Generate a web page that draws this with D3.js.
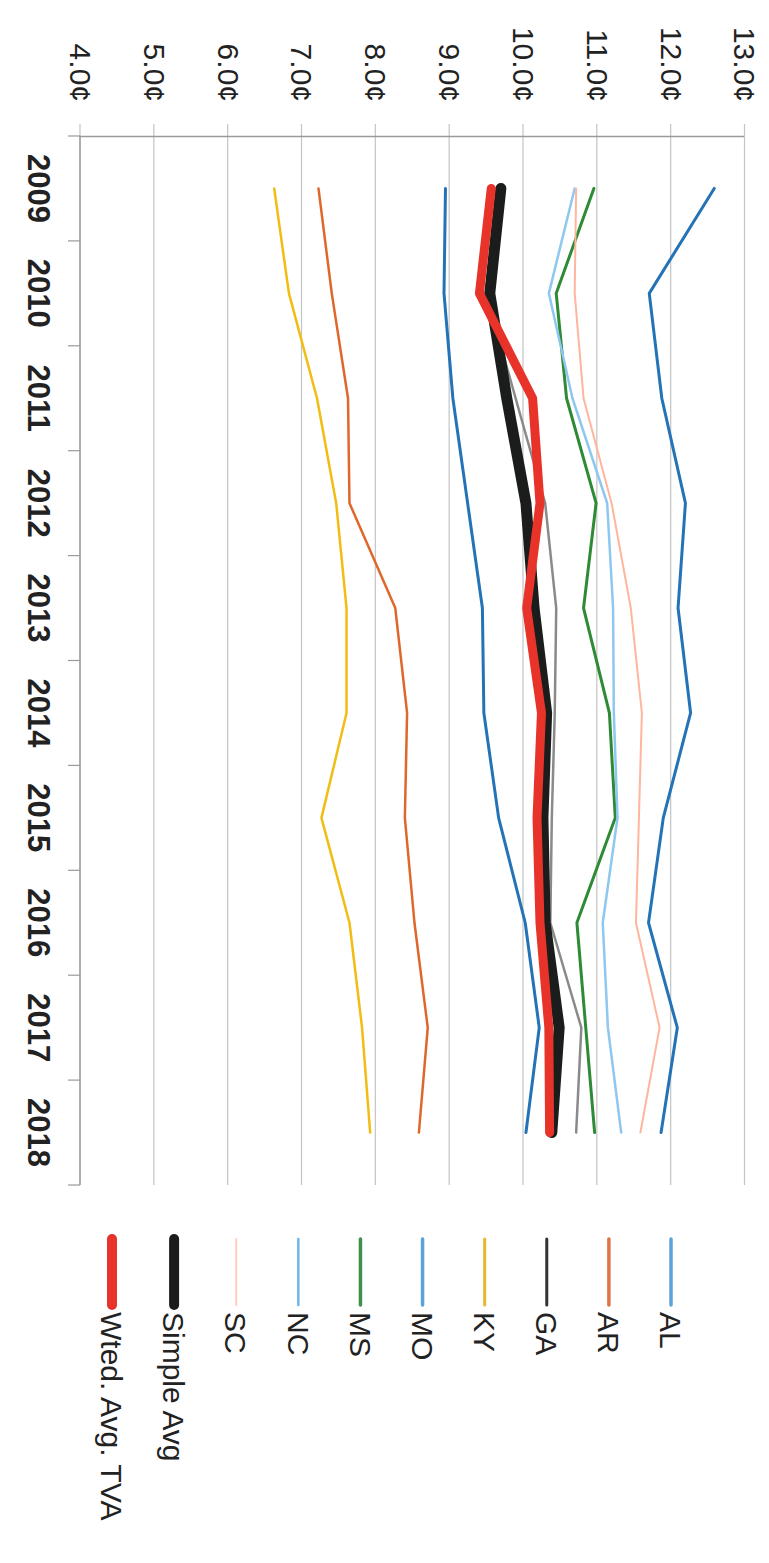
<!DOCTYPE html>
<html>
<head>
<meta charset="utf-8">
<script src="https://cdn.jsdelivr.net/npm/d3@7"></script>
<style>
  body { margin: 0; background: #fff; }
  text { font-family: "Liberation Sans", Arial, sans-serif; fill: #222; }
</style>
</head>
<body>
<svg id="chart"></svg>
<script>
const years = [2009, 2010, 2011, 2012, 2013, 2014, 2015, 2016, 2017, 2018];
const valueTicks = [4, 5, 6, 7, 8, 9, 10, 11, 12, 13];

const AL = [12.59, 11.71, 11.88, 12.20, 12.10, 12.27, 11.90, 11.70, 12.09, 11.87];
const AR = [7.23, 7.41, 7.63, 7.65, 8.27, 8.43, 8.40, 8.53, 8.71, 8.59];
const GA = [9.65, 9.50, 9.90, 10.30, 10.45, 10.43, 10.39, 10.37, 10.79, 10.72];
const KY = [6.63, 6.83, 7.21, 7.47, 7.61, 7.61, 7.27, 7.65, 7.82, 7.93];
const MO = [8.95, 8.93, 9.05, 9.25, 9.45, 9.47, 9.67, 10.03, 10.22, 10.04];
const MS = [10.96, 10.45, 10.59, 10.99, 10.82, 11.17, 11.25, 10.73, 10.85, 10.97];
const NC = [10.70, 10.35, 10.67, 11.14, 11.22, 11.23, 11.28, 11.08, 11.15, 11.33];
const SC = [10.72, 10.70, 10.82, 11.20, 11.46, 11.61, 11.57, 11.53, 11.85, 11.59];
const simpleAvg = [9.70, 9.55, 9.78, 10.04, 10.15, 10.32, 10.27, 10.30, 10.49, 10.39];
const wtedAvg = [9.57, 9.41, 10.13, 10.23, 10.05, 10.25, 10.19, 10.23, 10.35, 10.36];

const seriesNames = ["AL", "AR", "GA", "KY", "MO", "MS", "NC", "SC", "Simple Avg", "Wted. Avg. TVA"];
const seriesValues = [AL, AR, GA, KY, MO, MS, NC, SC, simpleAvg, wtedAvg];

const lineColors = ["#2473b6", "#e0672c", "#8a8a8a", "#f2bd12", "#2473b6", "#2f8a36", "#8ec7ef", "#ffb59e", "#1b1d1d", "#e8332a"];
const legendColors = ["#5ba3da", "#e07447", "#333333", "#e8b52e", "#5ba3da", "#3f8f4c", "#6fb6e6", "#ffcdbd", "#1b1d1d", "#e8332a"];
const lineWidths = [3, 2.5, 2.5, 2.5, 3, 3, 2.5, 2, 11, 9];
const legendWidths = [3.5, 3.5, 3, 3, 3.5, 3.5, 2.5, 2, 10, 10];

const width = 769, height = 1563;
// chart is laid out sideways: local x runs down the page, local y runs right-to-left

const svg = d3.select("#chart").attr("width", width).attr("height", height);
svg.append("rect").attr("width", width).attr("height", height).attr("fill", "#fff");

const g = svg.append("g").attr("transform", `translate(${width},0) rotate(90)`);

const x = d3.scaleBand().domain(years).range([136, 1185]);
const y = d3.scaleLinear().domain([4, 13]).range([689, 24.5]);

// grid lines
g.append("g")
    .selectAll("line")
    .data(valueTicks)
    .enter().append("line")
    .attr("x1", 124)
    .attr("x2", x.range()[1])
    .attr("y1", d => y(d))
    .attr("y2", d => y(d))
    .attr("stroke", "#c4c4c4")
    .attr("stroke-width", 1.2);

// value axis (left side in local frame)
const yAxis = g.append("g")
    .attr("transform", `translate(${x.range()[0]},0)`)
    .call(d3.axisLeft(y).tickValues(valueTicks).tickSize(0).tickPadding(34)
        .tickFormat(d => d3.format(".1f")(d) + "¢"));
yAxis.select(".domain").attr("stroke", "#9a9a9a").attr("stroke-width", 1.4);
yAxis.selectAll("text")
    .attr("font-size", 30)
    .attr("font-family", "Liberation Sans, Arial, sans-serif")
    .attr("fill", "#222");

// category axis (bottom in local frame)
const bounds = years.map(d => x(d)).concat([x.range()[1]]);
g.append("line")
    .attr("x1", x.range()[0]).attr("x2", x.range()[1])
    .attr("y1", y(4)).attr("y2", y(4))
    .attr("stroke", "#9a9a9a").attr("stroke-width", 1.4);
g.append("g")
    .selectAll("line")
    .data(bounds)
    .enter().append("line")
    .attr("x1", d => d).attr("x2", d => d)
    .attr("y1", y(4)).attr("y2", y(4) + 12)
    .attr("stroke", "#9a9a9a").attr("stroke-width", 1.2);
g.append("g")
    .selectAll("text")
    .data(years)
    .enter().append("text")
    .attr("x", d => x(d) + x.bandwidth() / 2)
    .attr("y", 741)
    .attr("text-anchor", "middle")
    .attr("font-size", 31)
    .attr("font-weight", "bold")
    .text(d => d);

// lines
const line = d3.line()
    .x((d, i) => x(years[i]) + x.bandwidth() / 2)
    .y(d => y(d));

g.append("g")
    .selectAll("path")
    .data(seriesValues)
    .enter().append("path")
    .attr("d", d => line(d))
    .attr("fill", "none")
    .attr("stroke", (d, i) => lineColors[i])
    .attr("stroke-width", (d, i) => lineWidths[i])
    .attr("stroke-linejoin", "round")
    .attr("stroke-linecap", "round");

// legend
const legendY = d3.scalePoint().domain(seriesNames).range([98, 657]);
const legend = g.append("g")
    .selectAll("g")
    .data(seriesNames)
    .enter().append("g")
    .attr("transform", d => `translate(0,${legendY(d)})`);

legend.append("line")
    .attr("x1", 1239).attr("x2", 1305)
    .attr("stroke", (d, i) => legendColors[i])
    .attr("stroke-width", (d, i) => legendWidths[i])
    .attr("stroke-linecap", "round");

legend.append("text")
    .attr("x", 1312)
    .attr("dy", "0.36em")
    .attr("font-size", 30)
    .text(d => d);
</script>
</body>
</html>
